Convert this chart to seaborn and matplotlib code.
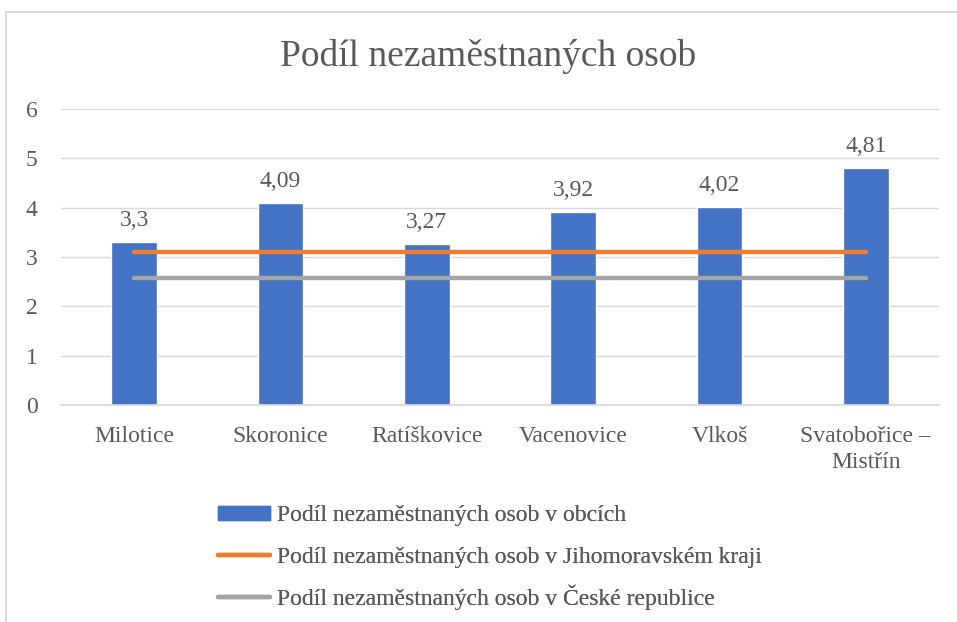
import matplotlib
matplotlib.use("Agg")
import matplotlib.pyplot as plt
import matplotlib.patches as mpatches
from matplotlib.lines import Line2D
import seaborn as sns
import pandas as pd

categories = ["Milotice", "Skoronice", "Ratíškovice", "Vacenovice", "Vlkoš", "Svatobořice –\nMistřín"]
obce = [3.3, 4.09, 3.27, 3.92, 4.02, 4.81]
kraj = [3.1] * 6
cr = [2.58] * 6
series_names = ["Podíl nezaměstnaných osob v obcích",
                "Podíl nezaměstnaných osob v Jihomoravském kraji",
                "Podíl nezaměstnaných osob v České republice"]
title = "Podíl nezaměstnaných osob"

sns.set_theme(style="white")
plt.rcParams['font.family'] = ['Liberation Serif', 'DejaVu Serif']
txt = '#595959'
blue, orange, gray = '#4472C4', '#ED7D31', '#A5A5A5'

df = pd.DataFrame({"obec": categories, "val": obce})

fig = plt.figure(figsize=(9.57, 6.22), dpi=100)
ax = fig.add_axes([61/957, 1-405/622, (939-61)/957, (405-109)/622])

sns.barplot(data=df, x="obec", y="val", color=blue, width=0.31, ax=ax, saturation=1)
xs = list(range(len(categories)))
ax.plot(xs, kraj, color=orange, lw=3.2, solid_capstyle='round', zorder=3)
ax.plot(xs, cr, color=gray, lw=3.2, solid_capstyle='round', zorder=3)

labels = [str(v).replace('.', ',') for v in obce]
ax.bar_label(ax.containers[0], labels=labels, padding=8, fontsize=17, color=txt)

ax.set_ylim(0, 6)
ax.set_xlim(-0.5, len(categories) - 0.5)
ax.set_yticks(range(0, 7))
ax.yaxis.grid(True, color='#D9D9D9', lw=1)
ax.set_axisbelow(True)
for s in ['left', 'right', 'top']:
    ax.spines[s].set_visible(False)
ax.spines['bottom'].set_color('#D9D9D9')
ax.tick_params(axis='both', length=0, labelsize=17, labelcolor=txt)
ax.tick_params(axis='y', pad=17)
ax.tick_params(axis='x', pad=15)
for t in ax.get_xticklabels():
    t.set_linespacing(1.35)
ax.set_xlabel("")
ax.set_ylabel("")

fig.text(488/957, 1-57/622, title, ha='center', va='center', fontsize=27, color=txt)

handles = [mpatches.Patch(color=blue),
           Line2D([0], [0], color=orange, lw=3.2, solid_capstyle='round'),
           Line2D([0], [0], color=gray, lw=3.2, solid_capstyle='round')]
ys = [516, 557, 597]
for h, name, y in zip(handles, series_names, ys):
    lg = fig.legend([h], [name], loc='center left',
                    bbox_to_anchor=(197/957, 1-y/622), frameon=False,
                    fontsize=17, labelcolor=txt, handlelength=2.2, handleheight=0.5,
                    handletextpad=0.3)
    fig.add_artist(lg)

fig.patches.append(mpatches.Rectangle((6/957, -0.1), 2, 1.1 - 12/622,
                                      transform=fig.transFigure, fill=False,
                                      edgecolor='#D9D9D9', lw=1.5))

fig.savefig("out.png", dpi=100)
